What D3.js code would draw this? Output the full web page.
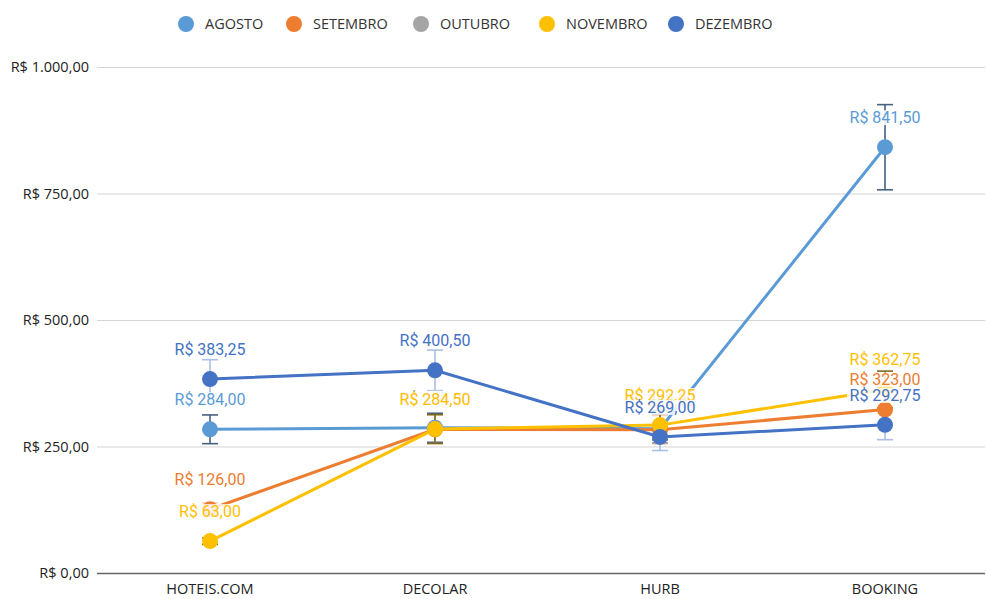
<!DOCTYPE html>
<html lang="pt-BR">
<head>
  <meta charset="UTF-8">
  <title>Preços por plataforma</title>
  <style>
    body { margin: 0; background: #fff; }
    svg { display: block; }
    .axis text { font-family: 'Open Sans', sans-serif; font-size: 14.5px; fill: #222; }
    .axis .domain { display: none; }
    .legend text { font-family: 'Open Sans', sans-serif; font-size: 14.5px; fill: #333; }
    .lbl { font-family: Roboto, sans-serif; font-size: 16px; }
  </style>
</head>
<body>
  <svg width="986" height="599"></svg>
  <script src="https://d3js.org/d3.v7.min.js"></script>
  <script>
    const categories = ["HOTEIS.COM", "DECOLAR", "HURB", "BOOKING"];
    const seriesNames = ["AGOSTO", "SETEMBRO", "OUTUBRO", "NOVEMBRO", "DEZEMBRO"];
    const agosto = [284, 287, 285, 841.5];
    const setembro = [126, 284, 283, 323];
    const outubro = [null, null, null, null];
    const novembro = [63, 284.5, 292.25, 362.75];
    const dezembro = [383.25, 400.5, 269, 292.75];
    const yTicks = [0, 250, 500, 750, 1000];

    const colors = ["#5b9bd5", "#ed7d31", "#a5a5a5", "#ffc000", "#4472c4"];
    const errColors = ["#44617f", "#f3d3bd", "#c8c8c8", "#7f6a1c", "#a9bde6"];
    const values = [agosto, setembro, outubro, novembro, dezembro];

    const svg = d3.select("svg");
    const width = +svg.attr("width");

    const ptBR = d3.formatLocale({ decimal: ",", thousands: ".", grouping: [3], currency: ["R$ ", ""] });
    const fmt = ptBR.format("$,.2f");

    const x = d3.scaleBand().domain(categories).range([97.5, 997.5]);
    const cx = (c) => x(c) + x.bandwidth() / 2;
    const y = d3.scaleLinear().domain([0, 1000]).range([573, 67]);

    // grid + y labels
    const yAxis = svg.append("g")
      .attr("class", "axis")
      .attr("transform", "translate(97,0)")
      .call(d3.axisLeft(y).tickValues(yTicks).tickFormat(fmt).tickSize(-(width - 98)).tickPadding(8));
    yAxis.selectAll(".tick line").attr("stroke", (d) => d === 0 ? "#666" : "#d4d4d4").attr("stroke-width", (d) => d === 0 ? 1.5 : 1.2);

    svg.append("g")
      .attr("class", "axis")
      .attr("transform", "translate(0,573)")
      .call(d3.axisBottom(x).tickFormat((d) => d).tickSize(0).tickPadding(11))
      .selectAll(".tick").attr("transform", (d) => `translate(${cx(d)},0)`);

    const series = seriesNames.map((name, i) => ({
      name, color: colors[i], err: errColors[i],
      points: categories.map((c, j) => ({ c, v: values[i][j] })).filter((p) => p.v != null)
    }));

    const line = d3.line().x((p) => cx(p.c)).y((p) => y(p.v));

    // error bars (+/-10%)
    series.forEach((s) => {
      const g = svg.append("g").attr("stroke", s.err).attr("stroke-width", 1.6);
      s.points.forEach((p) => {
        const px = cx(p.c), hi = y(p.v * 1.1), lo = y(p.v * 0.9);
        g.append("line").attr("x1", px).attr("x2", px).attr("y1", hi).attr("y2", lo);
        g.append("line").attr("x1", px - 8).attr("x2", px + 8).attr("y1", hi).attr("y2", hi);
        g.append("line").attr("x1", px - 8).attr("x2", px + 8).attr("y1", lo).attr("y2", lo);
      });
    });

    // lines and markers
    series.forEach((s) => {
      svg.append("path")
        .datum(s.points)
        .attr("fill", "none")
        .attr("stroke", s.color)
        .attr("stroke-width", 3)
        .attr("d", line);
      svg.append("g").selectAll("circle")
        .data(s.points)
        .enter()
        .append("circle")
        .attr("cx", (p) => cx(p.c))
        .attr("cy", (p) => y(p.v))
        .attr("r", 8)
        .attr("fill", s.color);
    });

    // data labels with white box
    series.forEach((s) => {
      const g = svg.append("g");
      s.points.forEach((p) => {
        const ly = y(p.v) - 30;
        g.append("rect")
          .attr("x", cx(p.c) - 38).attr("y", ly - 7)
          .attr("width", 76).attr("height", 15)
          .attr("fill", "#fff").attr("fill-opacity", 0.85);
        g.append("text")
          .attr("class", "lbl")
          .attr("x", cx(p.c)).attr("y", ly)
          .attr("dy", "0.36em")
          .attr("text-anchor", "middle")
          .attr("fill", s.color)
          .text(fmt(p.v));
      });
    });

    // legend
    const legendX = [186, 294, 421, 547, 676];
    const legend = svg.append("g").attr("class", "legend");
    seriesNames.forEach((name, i) => {
      legend.append("circle").attr("cx", legendX[i]).attr("cy", 24).attr("r", 8).attr("fill", colors[i]);
      legend.append("text").attr("x", legendX[i] + 19).attr("y", 24).attr("dy", "0.35em").text(name);
    });
  </script>
</body>
</html>
